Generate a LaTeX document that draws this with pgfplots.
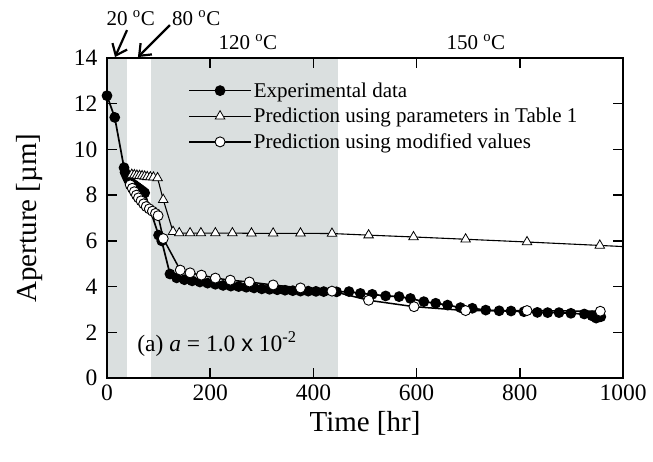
\documentclass[border=0pt]{standalone}
\usepackage{pgfplots}
\pgfplotsset{compat=1.18}
\usepackage{fontspec}
\setmainfont{Liberation Serif}
\newfontfamily\sansf{Liberation Sans}
\usetikzlibrary{arrows.meta}
\definecolor{bandgray}{RGB}{218,223,223}
\begin{document}
\begin{tikzpicture}
\begin{axis}[
  scale only axis, width=516pt, height=320pt,
  xmin=0, xmax=1000, ymin=0, ymax=14,
  xtick={0,200,...,1000}, ytick={0,2,...,14},
  tick align=inside, major tick length=10pt,
  axis line style={line width=1.8pt},
  every tick/.style={line width=1.5pt, black},
  tick label style={font=\fontsize{23.5}{26}\selectfont},
  xticklabel style={yshift=-6pt, inner sep=1pt},
  yticklabel style={xshift=-6pt},
  /pgf/number format/assume math mode=true,
  /pgf/number format/1000 sep={},
  xlabel={Time [hr]}, ylabel={Aperture [µm]},
  label style={font=\fontsize{29}{32}\selectfont, inner sep=1pt},
  x label style={at={(axis description cs:0.5,-0.142)}, anchor=center},
  y label style={at={(axis description cs:-0.151,0.5)}, anchor=center},
  axis on top, clip=false,
  legend style={draw=none, fill=none, font=\fontsize{21}{24}\selectfont,
    at={(rel axis cs:0.157,0.93)}, anchor=north west, inner sep=0pt,
    row sep=5.5pt},
  legend cell align=left,
  legend image code/.code={\draw[mark repeat=2,mark phase=2,#1] plot coordinates {(0pt,0pt)(31pt,0pt)(62pt,0pt)};},
]
\coordinate (O) at (rel axis cs:0,0);
\fill[bandgray] (axis cs:0,0) rectangle (axis cs:39,14);
\fill[bandgray] (axis cs:85,0) rectangle (axis cs:447,14);

\addplot[black, line width=1.7pt, mark=*, mark size=4.5pt, mark options={solid}] coordinates {
(0,12.35)(15,11.4)(33,9.2)(35,9.0)(37,8.9)(39,8.8)(41,8.7)(43,8.62)(46,8.55)(49,8.5)(52,8.45)(55,8.4)(58,8.35)(61,8.3)(64,8.25)(67,8.2)(70,8.15)(73,8.1)
(100,6.25)(106,6.0)(122,4.55)(135,4.38)(150,4.3)(165,4.25)(180,4.2)(195,4.15)(210,4.1)(225,4.05)(240,4.02)(255,4.0)(270,3.97)(285,3.94)(300,3.9)(315,3.88)(330,3.86)(345,3.84)(360,3.82)(375,3.8)(390,3.8)(405,3.79)(420,3.78)(445,3.77)
(469,3.78)(491,3.70)(514,3.66)(540,3.59)(566,3.56)(588,3.48)(614,3.34)(637,3.27)(660,3.19)(685,3.08)(708,3.05)(734,2.97)(760,2.94)(783,2.93)(808,2.90)(834,2.87)(854,2.86)(876,2.86)(899,2.83)(925,2.80)(940,2.72)(948,2.62)(957,2.68)
};
\addlegendentry{Experimental data}

\addplot[black, line width=1.1pt, mark=triangle*, mark size=5.5pt, mark options={solid, fill=white, line width=0.8pt}] coordinates {
(48,8.9)(53,8.88)(58,8.86)(63,8.85)(68,8.84)(73,8.82)(78,8.8)(84,8.79)(90,8.78)(98,8.75)(109,7.8)(128,6.4)(140,6.34)(161,6.34)(182,6.34)(210,6.34)(243,6.34)(280,6.33)(322,6.33)(375,6.33)(436,6.32)(507,6.25)(594,6.17)(695,6.07)(814,5.95)(955,5.8)
};
\addlegendentry{Prediction using parameters in Table 1}
\addplot[black, line width=1.1pt, forget plot] coordinates {(955,5.8)(1000,5.75)};

\addplot[black, line width=1.5pt, mark=*, mark size=5pt, mark options={solid, fill=white, line width=0.9pt}] coordinates {
(45,8.45)(49,8.3)(53,8.15)(57,8.0)(61,7.88)(66,7.75)(71,7.62)(76,7.5)(82,7.4)(88,7.3)(94,7.2)(99,7.1)(109,6.1)(142,4.72)(161,4.6)(183,4.5)(210,4.37)(239,4.28)(276,4.2)(322,4.07)(375,3.94)(436,3.8)(507,3.4)(595,3.12)(695,2.95)(814,2.95)(956,2.92)
};
\addlegendentry{Prediction using modified values}

\node[font=\fontsize{21}{24}\selectfont] at (axis cs:46,15.75) {20 \textsuperscript{o}C};
\node[font=\fontsize{21}{24}\selectfont] at (axis cs:173,15.75) {80 \textsuperscript{o}C};
\node[font=\fontsize{21}{24}\selectfont] at (axis cs:273,14.7) {120 \textsuperscript{o}C};
\node[font=\fontsize{21}{24}\selectfont] at (axis cs:715,14.7) {150 \textsuperscript{o}C};
\draw[line width=2.2pt, -{Straight Barb[length=10pt,width=16pt,line width=2.2pt]}] (axis cs:38.8,15.22) -- (axis cs:15.5,14.04);
\draw[line width=2.2pt, -{Straight Barb[length=10pt,width=16pt,line width=2.2pt]}] (axis cs:122,15.44) -- (axis cs:60,14.04);
\node[anchor=west, font=\fontsize{23.5}{26}\selectfont] at (axis cs:52,1.5) {(a) \textit{a} = 1.0 {\sansf x} 10\textsuperscript{-2}};
\end{axis}
\pgfresetboundingbox
\path (O) ++(-107pt,-84pt) rectangle ++(653pt,462pt);
\end{tikzpicture}
\end{document}
